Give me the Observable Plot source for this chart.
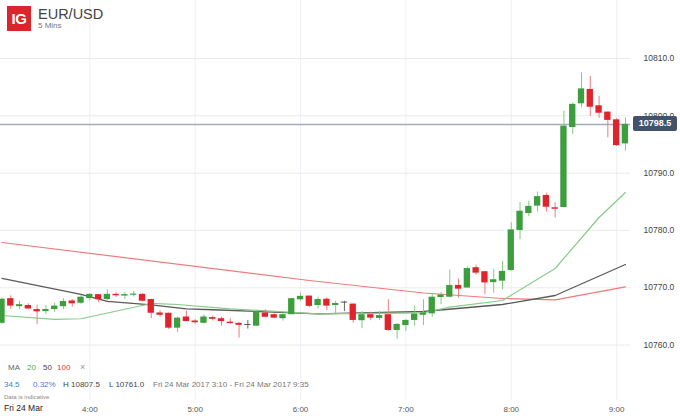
<!DOCTYPE html>
<html><head><meta charset="utf-8">
<script src="https://cdn.jsdelivr.net/npm/d3@7"></script>
<script src="https://cdn.jsdelivr.net/npm/@observablehq/plot@0.6"></script>
<style>
html,body{margin:0;padding:0;background:#fff;}
body{width:680px;height:416px;overflow:hidden;font-family:"Liberation Sans",Arial,sans-serif;}
#wrap{position:relative;width:680px;height:416px;}
#wrap svg{position:absolute;left:0;top:0;}
.ov{position:absolute;white-space:nowrap;line-height:1;}
#logo{left:7px;top:6px;width:24px;height:25px;background:#d8262c;color:#fff;font-weight:bold;font-size:15px;display:flex;align-items:center;justify-content:center;letter-spacing:-0.5px;line-height:1;}
#title{left:38px;top:6.6px;font-size:14.5px;color:#444;}
#sub{left:38px;top:21.9px;font-size:8px;color:#777;}
#priceBox{background:#42526b;color:#fff;font-weight:bold;font-size:9px;border-radius:2px;display:flex;align-items:center;justify-content:center;}
</style>
</head><body>
<div id="wrap">
  <div class="ov" id="logo">IG</div>
  <div class="ov" id="title">EUR/USD</div>
  <div class="ov" id="sub">5 Mins</div>
  <div class="ov" style="left:8px;top:364.4px;font-size:8px;color:#666;">MA</div>
  <div class="ov" style="left:27px;top:364.4px;font-size:8px;color:#4caf50;">20</div>
  <div class="ov" style="left:43px;top:364.4px;font-size:8px;color:#444;">50</div>
  <div class="ov" style="left:57px;top:364.4px;font-size:8px;color:#e53935;">100</div>
  <div class="ov" style="left:80px;top:363.4px;font-size:9px;color:#999;">×</div>
  <div class="ov" style="left:4px;top:381.1px;font-size:8px;color:#3b7dd8;">34.5</div>
  <div class="ov" style="left:33px;top:381.1px;font-size:8px;color:#3b7dd8;">0.32%</div>
  <div class="ov" style="left:63px;top:381.1px;font-size:8px;color:#444;">H 10807.5</div>
  <div class="ov" style="left:109px;top:381.1px;font-size:8px;color:#444;">L 10761.0</div>
  <div class="ov" style="left:153px;top:381.1px;font-size:8px;color:#777;">Fri 24 Mar 2017 3:10 - Fri 24 Mar 2017 9:35</div>
  <div class="ov" style="left:4px;top:393.8px;font-size:6px;color:#888;">Data is indicative</div>
  <div class="ov" style="left:4px;top:404.1px;font-size:8.5px;color:#222;">Fri 24 Mar</div>
</div>
<script>
const times = ["3:10","3:15","3:20","3:25","3:30","3:35","3:40","3:45","3:50","3:55",
  "4:00","4:05","4:10","4:15","4:20","4:25","4:30","4:35","4:40","4:45","4:50","4:55",
  "5:00","5:05","5:10","5:15","5:20","5:25","5:30","5:35","5:40","5:45","5:50","5:55",
  "6:00","6:05","6:10","6:15","6:20","6:25","6:30","6:35","6:40","6:45","6:50","6:55",
  "7:00","7:05","7:10","7:15","7:20","7:25","7:30","7:35","7:40","7:45","7:50","7:55",
  "8:00","8:05","8:10","8:15","8:20","8:25","8:30","8:35","8:40","8:45","8:50","8:55",
  "9:00","9:05"];
const opens = [10763.8,10768.1,10766.7,10766.9,10766.2,10765.85,10766.2,10766.7,10767.7,10767.3,
  10768.1,10768.8,10767.95,10768.85,10768.55,10768.7,10768.85,10767.95,10765.6,10765.55,10762.95,10764.9,
  10764.2,10763.8,10764.8,10764.6,10764.0,10763.8,10763.6,10763.3,10765.6,10765.3,10764.6,10765.3,
  10767.9,10768.55,10766.9,10768.0,10766.9,10767.5,10767.15,10764.25,10765.3,10764.65,10765.3,10762.55,
  10763.4,10764.3,10765.2,10765.45,10768.3,10768.35,10770.4,10769.95,10773.5,10772.8,10770.9,10771.15,
  10773.0,10780.0,10782.95,10784.25,10786.1,10783.95,10784.0,10797.95,10802.1,10804.6,10801.75,10800.65,
  10799.3,10795.1];
const highs = [10768.2,10768.6,10767.65,10767.2,10766.95,10766.9,10767.3,10768.1,10767.95,10768.65,
  10768.95,10768.85,10769.65,10769.2,10769.2,10769.4,10768.95,10768.0,10766.0,10765.6,10764.9,10765.9,
  10764.45,10765.3,10765.1,10764.9,10764.6,10763.9,10764.3,10766.0,10766.15,10765.45,10765.45,10768.1,
  10769.05,10768.55,10768.35,10768.25,10767.65,10767.65,10767.15,10765.85,10765.75,10765.85,10767.9,10763.8,
  10764.45,10766.8,10767.9,10768.8,10769.2,10773.1,10771.55,10773.6,10773.95,10772.8,10773.2,10774.6,
  10781.35,10784.9,10785.1,10786.7,10786.5,10784.8,10800.8,10802.2,10807.5,10806.85,10803.4,10800.65,
  10799.5,10799.65];
const lows = [10763.6,10766.2,10766.2,10766.2,10763.6,10765.3,10765.7,10766.2,10766.6,10767.1,
  10767.7,10767.4,10767.7,10768.3,10767.95,10768.4,10767.55,10764.6,10764.85,10762.7,10762.15,10764.1,
  10763.65,10763.7,10764.2,10763.3,10763.65,10761.2,10762.8,10763.25,10764.75,10764.6,10764.2,10765.3,
  10767.65,10766.5,10766.3,10766.0,10765.3,10765.85,10763.8,10762.85,10764.25,10764.3,10762.4,10761.0,
  10762.4,10763.3,10763.4,10764.85,10767.05,10768.2,10768.2,10769.95,10772.2,10768.8,10769.05,10769.65,
  10772.9,10778.4,10782.4,10783.2,10783.2,10782.15,10784.0,10796.75,10801.4,10799.9,10799.55,10796.15,
  10794.65,10793.85];
const closes = [10768.0,10766.8,10767.05,10766.3,10765.8,10766.2,10766.8,10767.6,10767.2,10768.35,
  10768.85,10767.9,10768.85,10768.6,10768.8,10768.9,10767.65,10765.55,10765.2,10762.95,10764.7,10764.1,
  10763.9,10764.9,10764.5,10764.1,10763.75,10763.45,10763.6,10765.85,10764.85,10764.7,10765.3,10768.1,
  10768.5,10766.75,10767.95,10766.8,10767.25,10767.5,10764.3,10765.3,10764.7,10765.15,10762.55,10763.6,
  10764.3,10765.4,10765.6,10768.35,10768.75,10770.4,10769.75,10773.35,10772.55,10770.85,10771.4,10772.85,
  10780.1,10783.35,10784.2,10785.9,10784.05,10783.7,10798.2,10802.0,10804.7,10801.5,10800.45,10799.2,
  10794.8,10798.5];

const ma20Times = ["3:10","3:40","3:55","4:35","4:50","5:20","6:10","7:10","7:25","7:55","8:25","8:50","9:05"];
const ma20Values = [10765.16,10764.47,10764.59,10767.26,10767.08,10766.33,10765.46,10765.63,10766.61,10767.78,10773.36,10782.26,10786.62];
const ma50Times = ["3:10","3:55","4:10","4:35","4:55","5:10","6:10","7:10","7:55","8:25","9:05"];
const ma50Values = [10771.62,10768.83,10767.61,10767.0,10766.33,10766.16,10765.46,10765.86,10767.08,10768.65,10774.06];
const ma100Times = ["3:10","6:05","7:10","7:55","8:25","9:05"];
const ma100Values = [10777.90,10771.27,10769.09,10768.13,10767.90,10770.14];

const xTickLabels = ["4:00","5:00","6:00","7:00","8:00","9:00"];
const yTicks = [10760,10770,10780,10790,10800,10810];

const parseT = s => { const [h, m] = s.split(":").map(Number); return h * 60 + m; };
const candles = times.map((s, i) => ({t: parseT(s), o: opens[i], h: highs[i], l: lows[i], c: closes[i]}));
const toSeries = (ts, vs) => ts.map((s, i) => ({t: parseT(s), v: vs[i]}));
const ma20 = toSeries(ma20Times, ma20Values);
const ma50 = toSeries(ma50Times, ma50Values);
const ma100 = toSeries(ma100Times, ma100Values);
const xTickVals = xTickLabels.map(parseT);
const lastPrice = closes[closes.length - 1];

const dir = d => d.c > d.o ? "up" : d.c < d.o ? "down" : "flat";
const bodyColor = {up: "#3d9e3d", down: "#e2232b", flat: "#555555"};
const wickColor = {up: "#86c886", down: "#ef7d82", flat: "#666666"};
const HALF = 1.8;

const plot = Plot.plot({
  width: 680, height: 416,
  marginTop: 0, marginLeft: 0, marginRight: 50, marginBottom: 16,
  x: {domain: [189.15, 547.9], label: null},
  y: {domain: [10750.33, 10820.12], label: null},
  color: {type: "identity"},
  style: {fontFamily: "Liberation Sans, Arial, sans-serif", background: "transparent", overflow: "visible"},
  marks: [
    Plot.gridX(xTickVals, {stroke: "#edf0f6", strokeOpacity: 1}),
    Plot.gridY(yTicks, {stroke: "#ebebeb", strokeOpacity: 1}),
    Plot.ruleY([lastPrice], {stroke: "#a3aabb", strokeWidth: 1.5}),
    Plot.line(ma100, {x: "t", y: "v", stroke: "#f07a7a", strokeWidth: 1.2}),
    Plot.line(ma50, {x: "t", y: "v", stroke: "#5a5a5a", strokeWidth: 1.3}),
    Plot.line(ma20, {x: "t", y: "v", stroke: "#85cc85", strokeWidth: 1.2}),
    Plot.ruleX(candles, {x: "t", y1: "l", y2: "h", stroke: d => wickColor[dir(d)], strokeWidth: 1}),
    Plot.rect(candles.filter(d => d.o !== d.c), {x1: d => d.t - HALF, x2: d => d.t + HALF, y1: "o", y2: "c", fill: d => bodyColor[dir(d)]}),
    Plot.ruleY(candles.filter(d => d.o === d.c), {x1: d => d.t - HALF, x2: d => d.t + HALF, y: "o", stroke: "#555555", strokeWidth: 1}),
    Plot.axisX(xTickVals, {label: null, tickSize: 0, tickPadding: 5.5, tickFormat: d => xTickLabels[xTickVals.indexOf(d)], fontSize: 8, color: "#555"}),
    Plot.axisY(yTicks, {label: null, anchor: "right", tickSize: 0, tickPadding: 13, tickFormat: d => d.toFixed(1), fontSize: 8.5, color: "#444"})
  ]
});

const wrap = document.getElementById("wrap");
wrap.insertBefore(plot, wrap.firstChild);

const yPx = plot.scale("y").apply(lastPrice);
const xRight = plot.scale("x").range[1];
const box = document.createElement("div");
box.className = "ov";
box.id = "priceBox";
box.style.left = (xRight + 3) + "px";
box.style.top = (yPx - 7.5) + "px";
box.style.width = "44px";
box.style.height = "15px";
box.textContent = lastPrice.toFixed(1);
wrap.appendChild(box);
</script>
</body></html>
